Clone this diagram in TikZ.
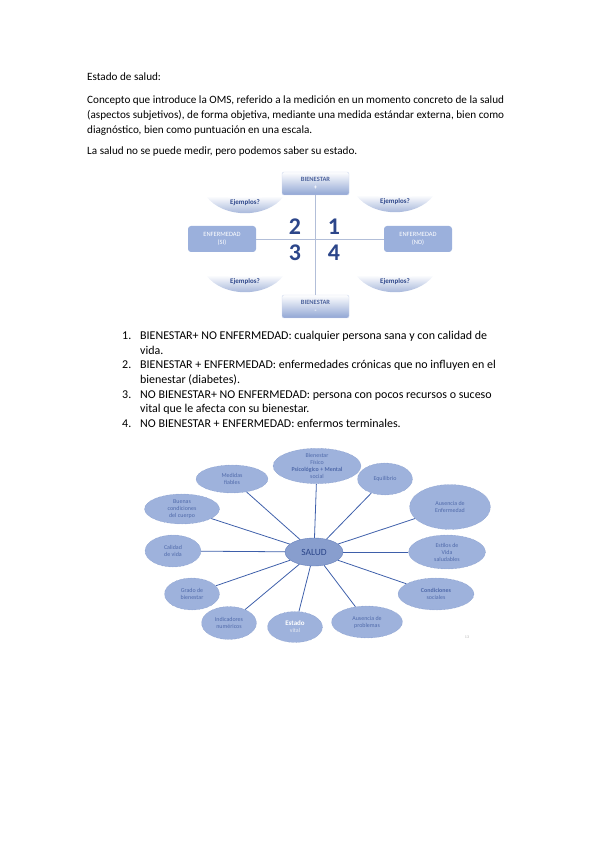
\documentclass[tikz,border=0pt]{standalone}
\usepackage{fontspec}
\setmainfont{Carlito}
\usetikzlibrary{shapes.geometric}
\definecolor{mapfill}{RGB}{158,178,220}
\definecolor{mapline}{RGB}{62,95,170}
\definecolor{maptext}{RGB}{80,106,170}
\definecolor{salfill}{RGB}{136,158,206}
\definecolor{quadblue}{RGB}{44,70,138}
\definecolor{boxblue}{RGB}{155,176,220}
\definecolor{axisgray}{RGB}{178,190,216}
\begin{document}
\begin{tikzpicture}[>=latex,line join=bevel,
  bodytext/.style={anchor=north west,inner sep=0pt,align=left,font=\fontsize{11.2}{15}\selectfont},
  topbox/.style={rounded corners=2pt,draw=boxblue!50,top color=white,bottom color=boxblue!90!quadblue,minimum width=67bp,minimum height=23bp,inner sep=0pt,align=center,font=\fontsize{6.5}{8.5}\selectfont\bfseries},
  sidebox/.style={rounded corners=3pt,fill=boxblue,minimum width=68bp,minimum height=26bp,inner sep=0pt,align=center,text=white,font=\fontsize{6.5}{8.5}\selectfont},
  quadnum/.style={text=quadblue,font=\fontsize{24}{24}\selectfont\bfseries,inner sep=0pt},
  asklabel/.style={text=quadblue,font=\fontsize{7}{8}\selectfont\bfseries,inner sep=0pt},
  bubble/.style={ellipse,draw=mapline!70,densely dotted,fill=mapfill,inner sep=0pt,align=center,text=maptext,font=\fontsize{6}{7}\selectfont},
  spoke/.style={mapline,line width=0.8pt},
]
\useasboundingbox (0bp,0bp) rectangle (599bp,848bp);
%% text
\node[bodytext] (node_title) at (87bp,775bp) {Estado de salud:};
\node[bodytext] (node_concept) at (87bp,752bp) {Concepto que introduce la OMS, referido a la medición en un momento concreto de la salud\\(aspectos subjetivos), de forma objetiva, mediante una medida estándar externa, bien como\\diagnóstico, bien como puntuación en una escala.};
\node[bodytext] (node_measure) at (87bp,701bp) {La salud no se puede medir, pero podemos saber su estado.};
%% quadrants
\foreach \cx/\cy in {245/645,395/646,245/566,395/566}
  \shade[shift={(\cx bp,\cy bp)},top color=white,bottom color=boxblue!85!quadblue]
    (-39bp,7bp) .. controls (-20bp,5bp) and (20bp,5bp) .. (39bp,7bp)
    .. controls (22bp,-16bp) and (-22bp,-16bp) .. (-39bp,7bp) -- cycle;
\node[topbox] (node_bien_plus) at (315.5bp,664.5bp) {\textcolor{quadblue!85}{BIENESTAR}\\\textcolor{white}{+}};
\node[topbox] (node_bien_minus) at (315.5bp,541.5bp) {\textcolor{quadblue!85}{BIENESTAR}\\\textcolor{white}{-}};
\node[sidebox] (node_enf_si) at (222bp,609bp) {ENFERMEDAD\\(SI)};
\node[sidebox] (node_enf_no) at (418bp,609bp) {ENFERMEDAD\\(NO)};
\draw [axisgray,line width=0.6pt] (node_bien_plus) -- (node_bien_minus);
\draw [axisgray,line width=0.6pt] (node_enf_si) -- (node_enf_no);
\node[asklabel] (node_ask_tl) at (245bp,645bp) {Ejemplos?};
\node[asklabel] (node_ask_tr) at (395bp,646bp) {Ejemplos?};
\node[asklabel] (node_ask_bl) at (245bp,566bp) {Ejemplos?};
\node[asklabel] (node_ask_br) at (395bp,566bp) {Ejemplos?};
\node[quadnum] (node_two) at (295bp,621bp) {2};
\node[quadnum] (node_one) at (334bp,621bp) {1};
\node[quadnum] (node_three) at (295bp,595bp) {3};
\node[quadnum] (node_four) at (334bp,595bp) {4};
%% list
\node[bodytext,font=\fontsize{12}{14.7}\selectfont] (node_list) at (122bp,519bp) {\begin{tabular}{@{}p{18bp}@{}l@{}}
1. & BIENESTAR+ NO ENFERMEDAD: cualquier persona sana y con calidad de\\
   & vida.\\
2. & BIENESTAR + ENFERMEDAD: enfermedades crónicas que no influyen en el\\
   & bienestar (diabetes).\\
3. & NO BIENESTAR+ NO ENFERMEDAD: persona con pocos recursos o suceso\\
   & vital que le afecta con su bienestar.\\
4. & NO BIENESTAR + ENFERMEDAD: enfermos terminales.
\end{tabular}};
%% concept map
\node[bubble,solid,draw=mapline!80,fill=salfill,minimum width=58bp,minimum height=28bp,text=quadblue,font=\fontsize{9.5}{10}\selectfont] (node_salud) at (314bp,296bp) {SALUD};
\node[bubble,minimum width=88bp,minimum height=34bp] (node_fisico) at (317bp,382bp) {Bienestar\\Físico\\\textbf{Psicológico + Mental}\\social};
\node[bubble,minimum width=55bp,minimum height=32bp] (node_equilibrio) at (385bp,369bp) {Equilibrio};
\node[bubble,minimum width=81bp,minimum height=45bp] (node_ausencia) at (450bp,341bp) {Ausencia de\\Enfermedad};
\node[bubble,minimum width=77bp,minimum height=34bp] (node_estilos) at (447bp,296bp) {Estilos de\\Vida\\saludables};
\node[bubble,minimum width=76bp,minimum height=32bp] (node_condiciones) at (436bp,254bp) {\textbf{Condiciones}\\sociales};
\node[bubble,minimum width=71bp,minimum height=32bp] (node_problemas) at (367bp,226bp) {Ausencia de\\problemas};
\node[bubble,minimum width=55bp,minimum height=31bp] (node_estado) at (295bp,221bp) {\textcolor{white}{\fontsize{7}{8}\selectfont\textbf{Estado}}\\\textcolor{white!85!maptext}{vital}};
\node[bubble,minimum width=55bp,minimum height=33bp] (node_indicadores) at (229bp,225bp) {Indicadores\\numéricos};
\node[bubble,minimum width=55bp,minimum height=32bp] (node_grado) at (192bp,254bp) {Grado de\\bienestar};
\node[bubble,minimum width=56bp,minimum height=32bp] (node_calidad) at (173bp,297bp) {Calidad\\de vida};
\node[bubble,minimum width=75bp,minimum height=30bp] (node_cuerpo) at (182bp,339bp) {Buenas\\condiciones\\del cuerpo};
\node[bubble,minimum width=72bp,minimum height=28bp] (node_medidas) at (232bp,369bp) {Medidas\\fiables};
\foreach \n in {fisico,equilibrio,ausencia,estilos,condiciones,problemas,estado,indicadores,grado,calidad,cuerpo,medidas}
  \draw [spoke] (node_salud) -- (node_\n);
\node[text=gray!60,font=\fontsize{4}{4}\selectfont,inner sep=0pt] (node_page) at (467bp,211bp) {13};
%
\end{tikzpicture}
\end{document}
